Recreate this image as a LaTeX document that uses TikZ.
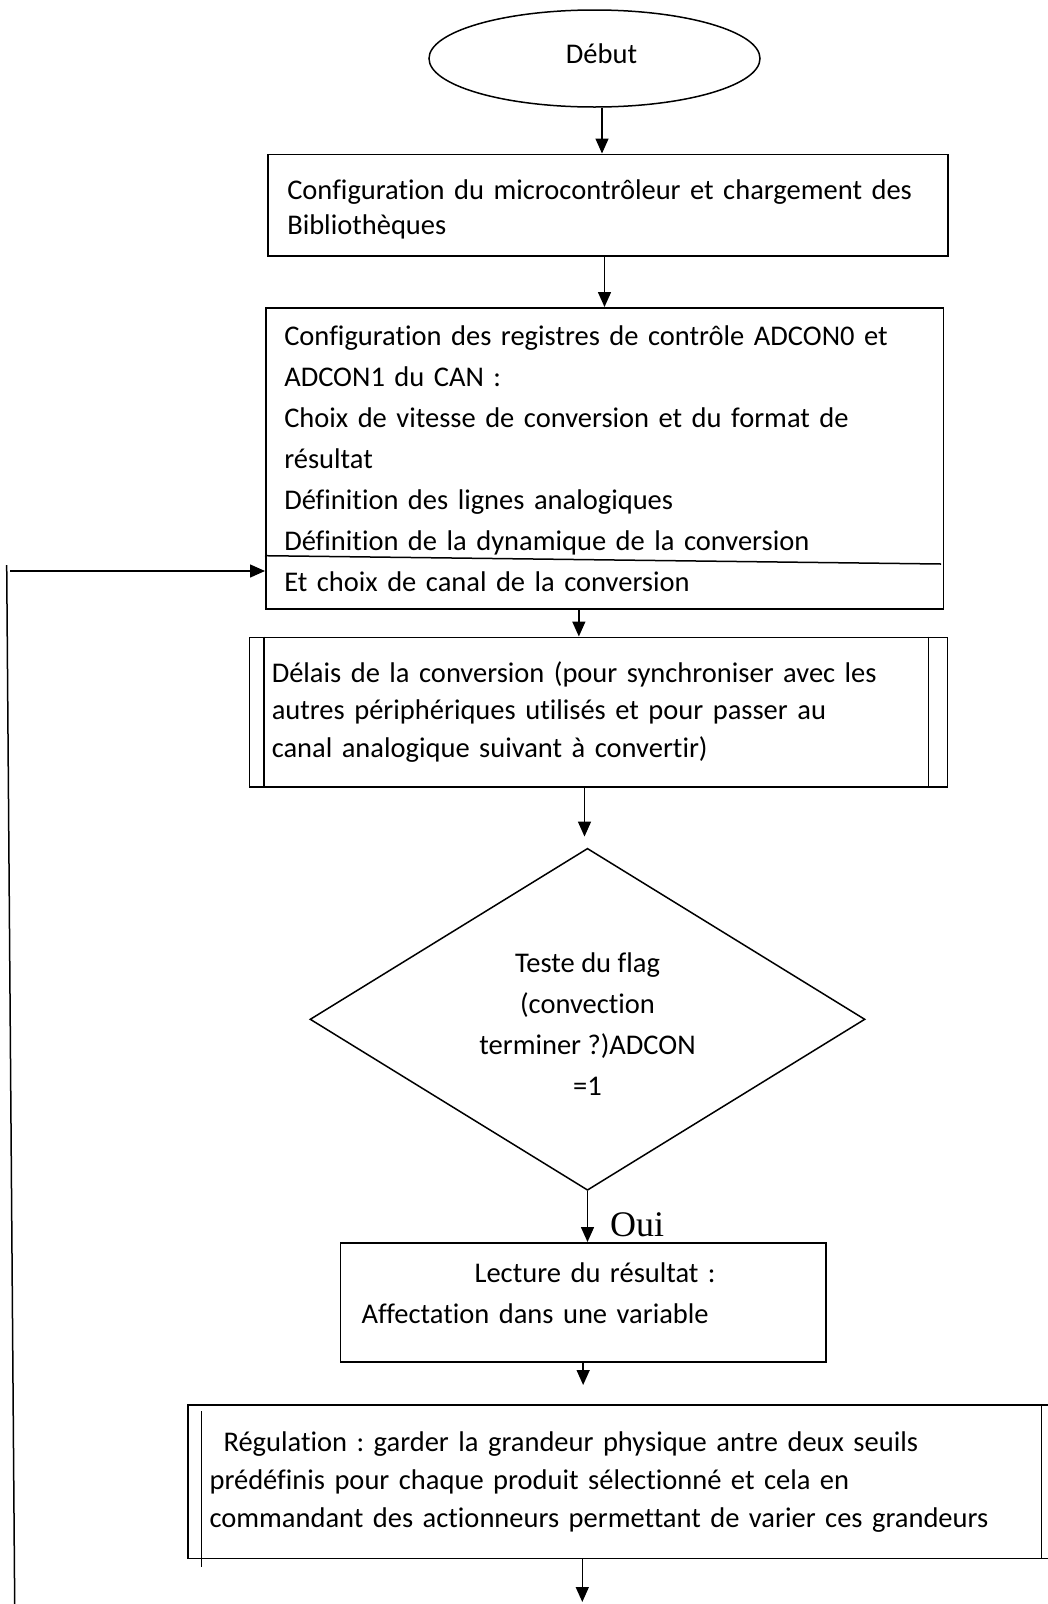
\documentclass[tikz,border=0pt]{standalone}
\usepackage{fontspec}
\setmainfont{Carlito}[Ligatures=NoCommon]
\newfontfamily\serifoui{Liberation Serif}
\usetikzlibrary{shapes.geometric,arrows.meta,calc}
\frenchspacing

\begin{document}
\begin{tikzpicture}[x=1pt,y=-1pt,
  every node/.style={font=\fontsize{28.5}{41}\selectfont},
  flow/.style={draw, line width=1.5pt, rectangle, align=left, anchor=north west, inner ysep=0pt},
  arr/.style={line width=1.5pt, -{Triangle[length=15pt,width=13pt]}},
  line/.style={line width=1.5pt}]
\useasboundingbox (0,0) rectangle (1048,1604);
\clip (0,0) rectangle (1048,1604);

% start
\node[draw, line width=1.5pt, ellipse, minimum width=331pt, minimum height=97pt, inner sep=0pt] (start) at (594.5,58.5)
  {\hspace*{14pt}Début\rule[-10pt]{0pt}{0pt}};

% setup of the microcontroller
\node[flow, minimum width=680pt, minimum height=101.5pt, text width=641pt, inner xsep=19.5pt,
  font=\fontsize{28.5}{35}\selectfont] (b1) at (267,153.5)
  {\rule{0pt}{29pt}Configuration du microcontrôleur et chargement des\\Bibliothèques};

% ADC registers
\node[flow, minimum width=677.5pt, minimum height=301pt, text width=640.5pt, inner xsep=18.5pt,
  font=\fontsize{28.5}{41}\selectfont] (b2) at (265,307)
  {Configuration des registres de contrôle ADCON0 et\\
   ADCON1 du CAN :\\
   Choix de vitesse de conversion et du format de\\
   résultat\\
   Définition des lignes analogiques\\
   Définition de la dynamique de la conversion\\
   Et choix de canal de la conversion};
\draw[line] ($(b2.north west)+(0,248.7)$) -- ($(b2.north east)+(-3,257)$);

% conversion delay (predefined process)
\node[flow, minimum width=698pt, minimum height=149.5pt, text width=653.4pt, inner xsep=22.3pt,
  font=\fontsize{28.5}{37.5}\selectfont] (b3) at (248.7,636.5)
  {Délais de la conversion (pour synchroniser avec les\\
   autres périphériques utilisés et pour passer au\\
   canal analogique suivant à convertir)};
\draw[line] ([xshift=15.3pt]b3.north west) -- ([xshift=15.3pt]b3.south west);
\draw[line] ([xshift=-19.6pt]b3.north east) -- ([xshift=-19.6pt]b3.south east);

% flag test
\node[draw, line width=1.5pt, diamond, aspect=1.62, minimum width=555pt, minimum height=342pt,
  inner sep=0pt, align=center] (test) at (587.5,1019.3)
  {\rule{0pt}{29pt}Teste du flag\\(convection\\terminer ?)ADCON\\=1};

% reading the result
\node[flow, minimum width=485.2pt, minimum height=119pt, text width=443.2pt, inner xsep=21pt] (b4) at (339.8,1242)
  {\hspace*{113pt}Lecture du résultat :\\Affectation dans une variable\rule[-18pt]{0pt}{18pt}};

% regulation (predefined process)
\node[flow, minimum width=875pt, minimum height=153.6pt, text width=831.4pt, inner xsep=21.8pt,
  font=\fontsize{28.5}{38}\selectfont] (b5) at (187,1404)
  {\hspace*{14pt}Régulation : garder la grandeur physique antre deux seuils\\
   prédéfinis pour chaque produit sélectionné et cela en\\
   commandant des actionneurs permettant de varier ces grandeurs};
\draw[line] ($(b5.north west)+(14.6,7)$) -- ($(b5.south west)+(14.6,8)$);
\draw[line] ([xshift=-22pt]b5.north east) -- ([xshift=-22pt]b5.south east);

% connectors
\draw[arr] ([xshift=7.5pt]start.south) -- ([xshift=7.5pt]start.south |- b1.north);
\draw[arr] (b2.north |- b1.south) -- (b2.north);
\coordinate (a3) at ([xshift=-19.6pt]b3.north);
\draw[arr] (a3 |- b2.south) -- (a3);
\coordinate (a4) at ([xshift=-3pt]test.north);
\draw[arr, shorten >=11pt] (a4 |- b3.south) -- (a4);
\draw[arr] (test.south) -- (test.south |- b4.north);
\node[font=\serifoui\fontsize{36}{40}\selectfont, anchor=west, inner sep=0pt] (oui) at (610,1225) {Oui};
\draw[arr, shorten >=19pt] (b4.south) -- (b4.south |- b5.north);
\coordinate (end) at (582.3,1602);
\draw[arr] (end |- b5.south) -- (end);

% loop back
\coordinate (fbtop) at (6.7,565);
\coordinate (fbbot) at (14.7,1604);
\draw[line] (fbtop) -- (fbbot);
\coordinate (fbstart) at (10,571);
\draw[arr] (fbstart) -- (fbstart -| b2.west);
\end{tikzpicture}
\end{document}
